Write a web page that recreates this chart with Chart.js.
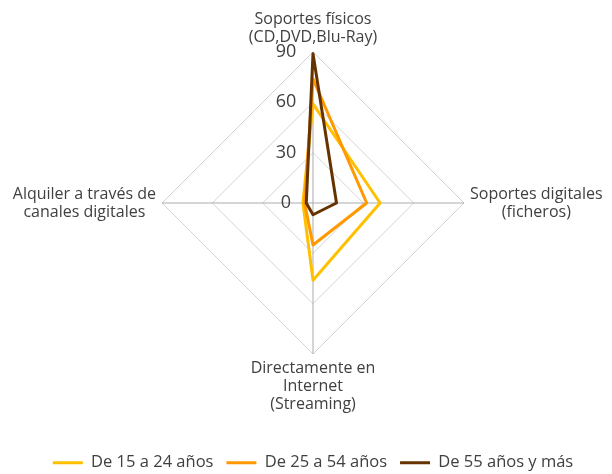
<!DOCTYPE html>
<html>
<head>
<meta charset="utf-8">
<script src="https://cdn.jsdelivr.net/npm/chart.js@4.4.1/dist/chart.umd.min.js"></script>
<style>
  html, body { margin: 0; padding: 0; background: #fff; }
  #wrap { width: 612px; height: 474px; position: relative; }
</style>
</head>
<body>
<div id="wrap"><canvas id="radar"></canvas></div>
<script>
const categories = [
  ["Soportes físicos", "(CD,DVD,Blu-Ray)"],
  ["Soportes digitales", "(ficheros)"],
  ["Directamente en", "Internet", "(Streaming)"],
  ["Alquiler a través de", "canales digitales"],
];
const seriesNames = ["De 15 a 24 años", "De 25 a 54 años", "De 55 años y más"];
const age15to24 = [59, 40, 46, 6];
const age25to54 = [74, 32, 25, 5];
const age55plus = [89, 14, 7, 4];
const tickValues = [0, 30, 60, 90];

const colors = ["#FFC000", "#FF9900", "#663300"];
const FONT = "'Open Sans', sans-serif";
const TEXT = "#404040";

// tick numbers sit left of the vertical axis, category names are centred blocks
const labelPlugin = {
  id: "radarLabels",
  afterDatasetsDraw(chart) {
    const scale = chart.scales.r;
    const ctx = chart.ctx;
    ctx.save();
    ctx.fillStyle = TEXT;
    ctx.textBaseline = "middle";
    ctx.textAlign = "center";

    ctx.font = "18px " + FONT;
    tickValues.forEach((v) => {
      const p = scale.getPointPositionForValue(0, v);
      ctx.fillText(String(v), p.x - 27, p.y);
    });

    const lh = 18;
    ctx.font = "16px " + FONT;
    chart.data.labels.forEach((lines, i) => {
      const p = scale.getPointPosition(i, scale.drawingArea);
      const n = lines.length;
      const w = Math.max(...lines.map((s) => ctx.measureText(s).width));
      lines.forEach((s, k) => {
        let x = p.x, y = p.y;
        if (i === 0) y = p.y - 15 - (n - 1 - k) * lh;
        else if (i === 2) y = p.y + 14 + k * lh;
        else {
          y = p.y + (k - (n - 1) / 2) * lh;
          x = i === 1 ? p.x + 6 + w / 2 : p.x - 6 - w / 2;
        }
        ctx.fillText(s, x, y);
      });
    });
    ctx.restore();
  },
};

const seriesData = [age15to24, age25to54, age55plus];

new Chart(document.getElementById("radar"), {
  type: "radar",
  data: {
    labels: categories,
    datasets: seriesData.map((values, i) => ({
      label: seriesNames[i],
      data: values,
      borderColor: colors[i],
      backgroundColor: colors[i],
      borderWidth: 3,
      borderJoinStyle: "round",
      pointRadius: 0,
      pointHoverRadius: 0,
      fill: false,
      order: seriesData.length - 1 - i,
    })),
  },
  options: {
    responsive: true,
    maintainAspectRatio: false,
    animation: false,
    layout: { padding: { left: 14, right: 0, top: 52, bottom: -7 } },
    scales: {
      r: {
        min: 0,
        max: 90,
        ticks: { stepSize: 30, display: false },
        pointLabels: { display: false },
        grid: { color: "#D4D4D4", lineWidth: 1 },
        angleLines: { color: "#ABABAB", lineWidth: 1 },
      },
    },
    plugins: {
      tooltip: { enabled: false },
      legend: {
        position: "bottom",
        title: { display: true, text: " ", font: { size: 10, lineHeight: 1 }, padding: { top: 77, bottom: 0 } },
        labels: {
          font: { family: FONT, size: 16.5 },
          color: TEXT,
          boxWidth: 30,
          boxHeight: 3,
          padding: 13,
          sort: (a, b) => a.datasetIndex - b.datasetIndex,
          generateLabels(chart) {
            const items = Chart.defaults.plugins.legend.labels.generateLabels(chart);
            items.forEach((it) => { it.lineWidth = 0; it.fillStyle = it.strokeStyle; });
            return items;
          },
        },
      },
    },
  },
  plugins: [labelPlugin],
});
</script>
</body>
</html>
